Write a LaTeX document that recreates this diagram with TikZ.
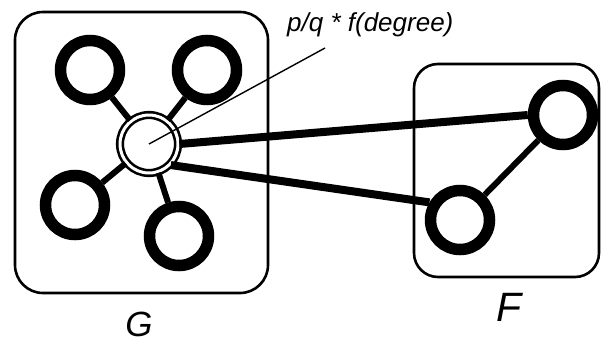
\documentclass[tikz,border=0pt]{standalone}
\usepackage{fontspec}
\setmainfont{Liberation Sans}
\begin{document}
\begin{tikzpicture}[x=1pt,y=-1pt,
  vertex/.style={circle,draw,line width=11.5pt,minimum size=59pt,inner sep=0pt,fill=white},
  hub/.style={circle,draw,line width=2.6pt,minimum size=58pt,inner sep=0pt,fill=white,
    double=white,double distance=3pt},
  graphbox/.style={draw,line width=2.6pt,rounded corners=28pt},
  inner/.style={line width=6pt},
  bridge/.style={line width=8pt},
  pointer/.style={line width=1.4pt},
  glabel/.style={font=\itshape\fontsize{35}{38}\selectfont,inner sep=0pt,anchor=base},
  formula/.style={font=\itshape\fontsize{26}{30}\selectfont,anchor=base west,inner sep=0pt}]
  \useasboundingbox (0,0) rectangle (601,343);

  % the two graphs
  \draw[graphbox] (15,12) rectangle (268,293);
  \draw[graphbox,rounded corners=24pt] (414,64) rectangle (599,277);

  % vertices of G
  \node[hub] (c) at (149,144) {};
  \node[vertex] (g1) at (90,70) {};
  \node[vertex] (g2) at (207,70) {};
  \node[vertex] (g3) at (75,205) {};
  \node[vertex] (g4) at (179,236) {};

  % vertices of F
  \node[vertex] (f1) at (460,220) {};
  \node[vertex] (f2) at (563,115) {};

  % edges inside G
  \foreach \v in {g1,g2,g3,g4} \draw[inner] (c) -- (\v);
  % edge inside F
  \draw[inner] (f1) -- (f2);
  % edges joining G to F
  \draw[bridge] (c.east) -- (f2.west);
  \draw[bridge] (c.-44) -- (f1.150);

  % annotation
  \coordinate (tip) at (325,48);
  \draw[pointer] (c.center) -- (tip);
  \node[formula] (lab) at (287,31) {p/q * f(degree)};

  \node[glabel] (gname) at (139,336) {G};
  \node[glabel,font=\itshape\fontsize{41}{45}\selectfont] (fname) at (509,321) {F};
\end{tikzpicture}
\end{document}
